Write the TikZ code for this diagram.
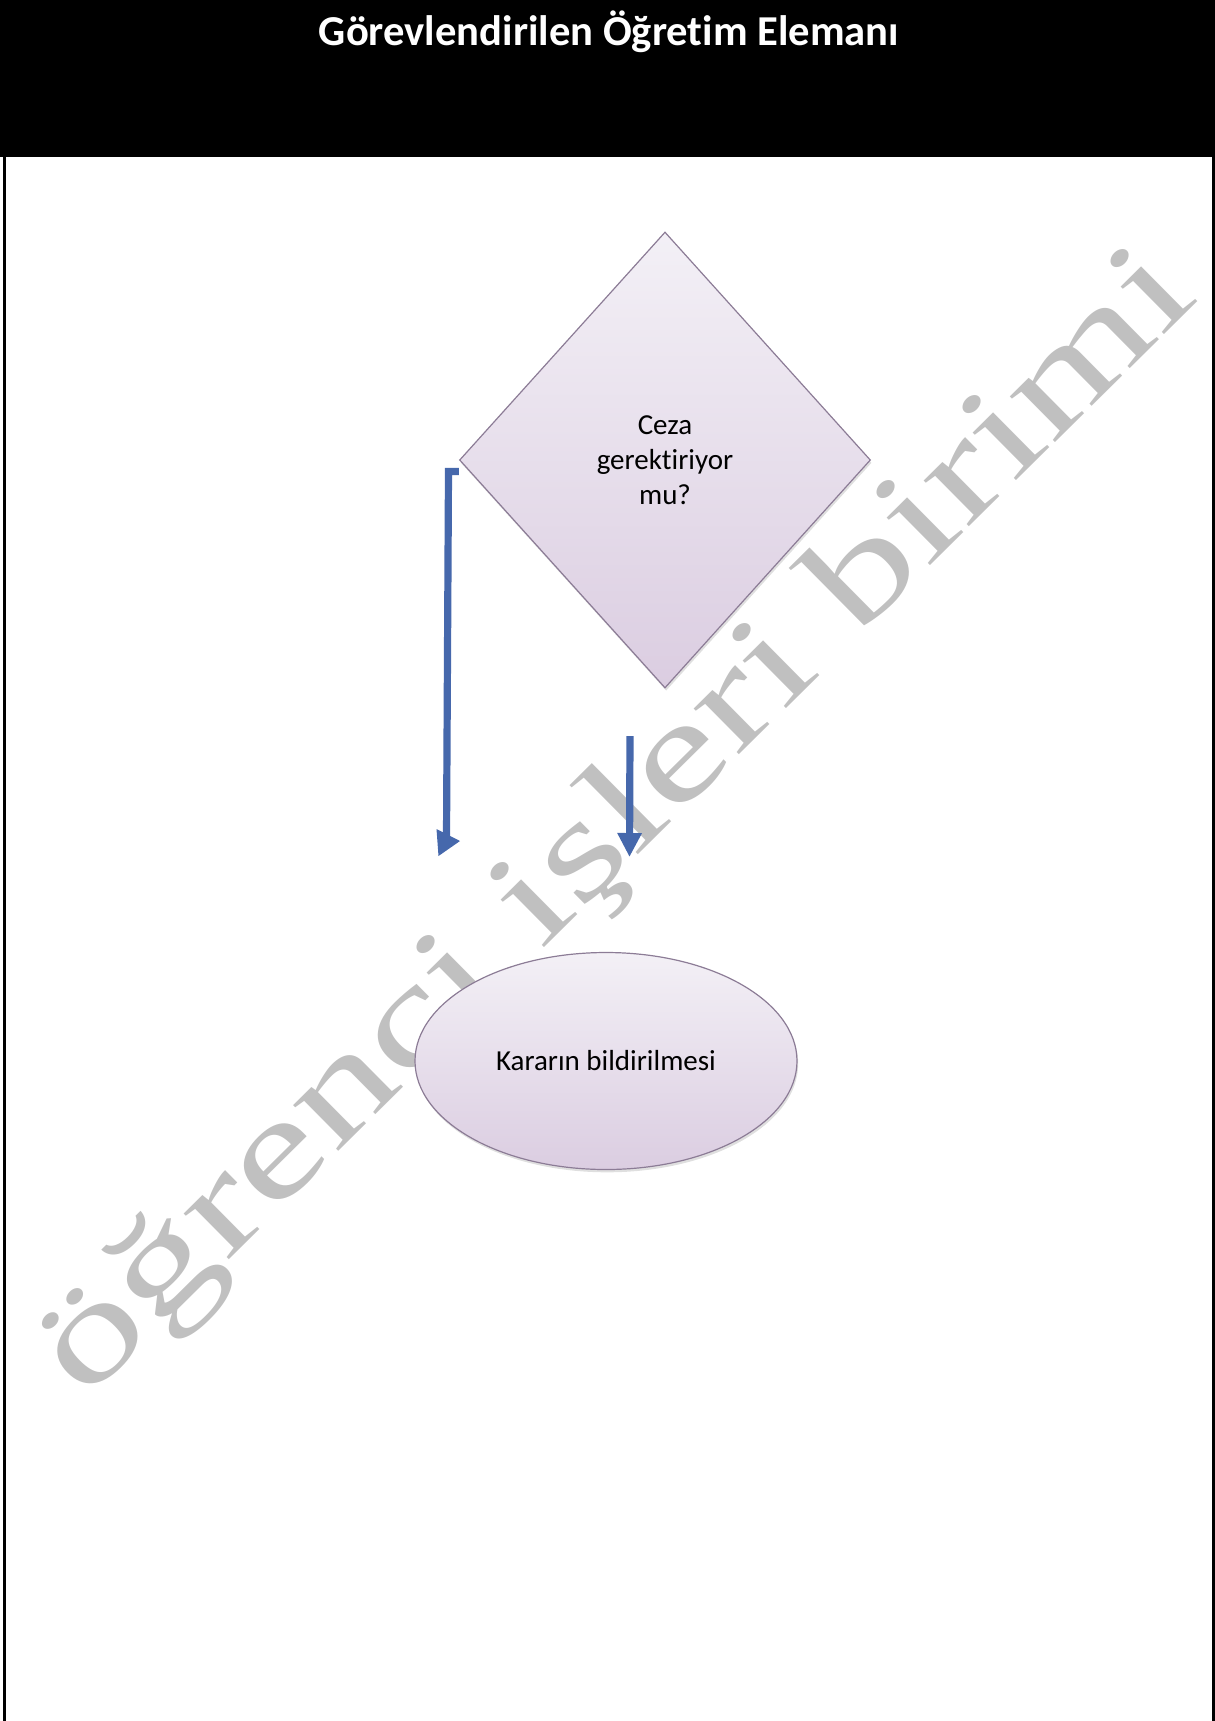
\documentclass[tikz,border=0pt]{standalone}
\usepackage{graphicx}
\usepackage{fontspec}
\setmainfont{Carlito}[Ligatures=NoCommon]
\newfontfamily\wmfont{Liberation Serif}
\usetikzlibrary{shapes.geometric,arrows.meta,shadows,calc}
\definecolor{wmgray}{RGB}{192,192,192}
\definecolor{flowblue}{RGB}{70,104,172}
\definecolor{lavtop}{RGB}{243,240,246}
\definecolor{lavbot}{RGB}{219,205,225}
\definecolor{lavline}{RGB}{140,124,150}
\begin{document}
\begin{tikzpicture}[x=0.5pt,y=-0.5pt,
  shapebox/.style={draw=lavline, line width=0.6pt, top color=lavtop, bottom color=lavbot,
    drop shadow={shadow xshift=0.6pt, shadow yshift=-1.4pt, opacity=0.25},
    font=\fontsize{14.5pt}{17.5pt}\selectfont, align=center, inner sep=0pt},
  decision/.style={shapebox, diamond, minimum width=205.5pt, minimum height=228pt},
  terminal/.style={shapebox, ellipse, minimum width=191pt, minimum height=108.5pt},
  conn/.style={draw=flowblue, line width=3.6pt},
  connarrow/.style={conn, -{Triangle[length=12pt,width=11.5pt]}},
  watermark/.style={rotate=44.7, anchor=base, text=wmgray, inner sep=0pt,
    font=\wmfont\fontsize{70pt}{76pt}\selectfont},
  frameline/.style={draw=black, line width=1.5pt}]
\useasboundingbox (0,0) rectangle (1215,1721);
% watermark (behind everything)
\node[watermark] (wm) at (643,850) {\scalebox{1.41}[1]{öğrenci işleri birimi}};
% header
\fill[black] (0,0) rectangle (1215,157);
\node[font=\bfseries\fontsize{21.3pt}{25pt}\selectfont, text=white, anchor=base] (title) at (609,45) {Görevlendirilen Öğretim Elemanı};
% frame
\draw[frameline] (4,157) -- (4,1721);
\draw[frameline] (1213.5,157) -- (1213.5,1721);
% shapes
\node[decision] (dia) at (665,460) {Ceza\\gerektiriyor\\mu?};
\node[terminal] (ell) at (606,1061) {Kararın bildirilmesi};
% left connector
\coordinate (lbend) at (448.5,471.5);
\coordinate (lend) at (446.5,838);
\draw[conn, line join=miter] ($(dia.west)+(0,11.5)$) -- (lbend) -- (lend);
\fill[flowblue] (436.5,829) -- (460,841) -- (438.5,856) -- cycle;
% right arrow
\coordinate (rtop) at (630,736);
\coordinate (rtip) at (629.5,857);
\draw[connarrow] (rtop) -- (rtip);
\end{tikzpicture}
\end{document}
